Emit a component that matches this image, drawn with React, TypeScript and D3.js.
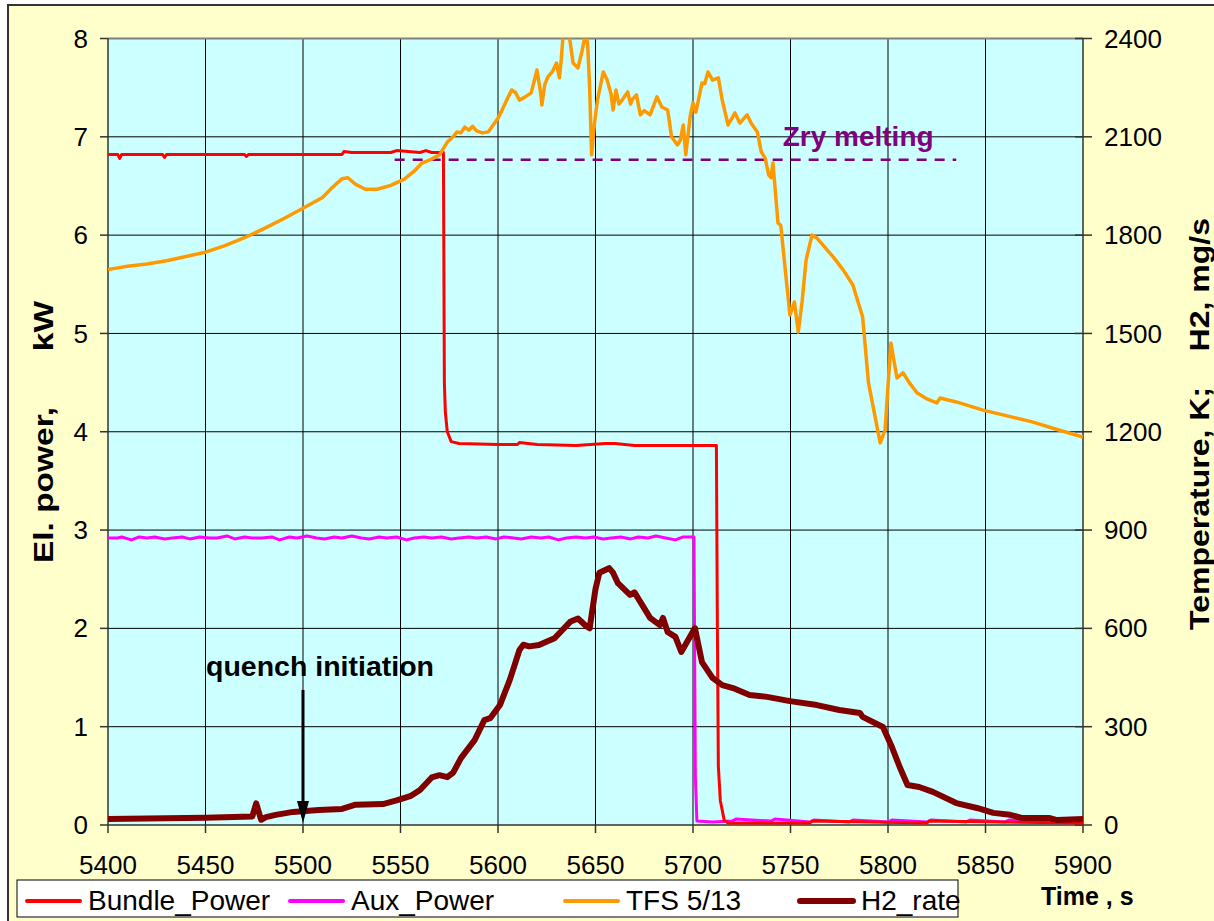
import * as d3 from 'd3';

// ── Data ────────────────────────────────────────────────
const BUNDLE_T = [5400, 5405, 5406, 5407, 5428, 5429, 5430, 5470, 5471, 5472, 5520, 5521, 5525, 5545, 5548, 5560, 5563, 5566, 5572, 5572.5, 5573, 5574, 5576, 5580, 5600, 5610, 5611, 5620, 5640, 5655, 5660, 5670, 5712, 5712.5, 5713, 5714, 5716, 5718, 5760, 5761, 5820, 5821, 5900];
const BUNDLE_P = [6.82, 6.82, 6.78, 6.82, 6.82, 6.79, 6.82, 6.82, 6.8, 6.82, 6.82, 6.85, 6.84, 6.84, 6.86, 6.84, 6.86, 6.84, 6.84, 4.5, 4.2, 4.0, 3.9, 3.88, 3.87, 3.87, 3.89, 3.87, 3.86, 3.88, 3.88, 3.86, 3.86, 2.0, 0.6, 0.25, 0.05, 0.02, 0.02, 0.04, 0.02, 0.04, 0.02];

const AUX_T = [5400, 5405, 5407, 5412, 5416, 5420, 5424, 5429, 5433, 5438, 5442, 5447, 5452, 5456, 5461, 5465, 5470, 5474, 5479, 5484, 5488, 5493, 5497, 5502, 5507, 5511, 5516, 5520, 5525, 5530, 5534, 5539, 5543, 5548, 5553, 5557, 5562, 5566, 5571, 5576, 5580, 5585, 5589, 5594, 5599, 5603, 5608, 5612, 5617, 5622, 5626, 5631, 5635, 5640, 5645, 5649, 5654, 5658, 5663, 5668, 5672, 5677, 5681, 5686, 5691, 5695, 5700.5, 5701.2, 5702, 5710, 5720, 5722, 5740, 5742, 5760, 5762, 5780, 5782, 5800, 5802, 5820, 5822, 5840, 5842, 5860, 5862, 5880, 5882, 5900];
const AUX_P = [2.92, 2.92, 2.93, 2.9, 2.93, 2.92, 2.93, 2.91, 2.92, 2.93, 2.91, 2.93, 2.92, 2.92, 2.94, 2.91, 2.93, 2.92, 2.92, 2.93, 2.9, 2.93, 2.92, 2.94, 2.92, 2.91, 2.93, 2.92, 2.94, 2.92, 2.91, 2.93, 2.92, 2.93, 2.9, 2.92, 2.93, 2.92, 2.93, 2.91, 2.92, 2.93, 2.92, 2.93, 2.91, 2.93, 2.92, 2.91, 2.93, 2.92, 2.93, 2.9, 2.92, 2.93, 2.92, 2.93, 2.91, 2.92, 2.93, 2.91, 2.93, 2.92, 2.94, 2.92, 2.9, 2.93, 2.93, 0.5, 0.04, 0.03, 0.04, 0.06, 0.04, 0.06, 0.03, 0.05, 0.03, 0.05, 0.03, 0.05, 0.03, 0.05, 0.03, 0.05, 0.03, 0.05, 0.03, 0.05, 0.04];

const TFS_T = [5400, 5405, 5410, 5420, 5430, 5440, 5450, 5460, 5470, 5480, 5490, 5500, 5510, 5515, 5520, 5523, 5527, 5532, 5538, 5545, 5552, 5557, 5561, 5566, 5570, 5574, 5577, 5579, 5581, 5583, 5585, 5587, 5589, 5592, 5595, 5598, 5600, 5602, 5604, 5607, 5609, 5611, 5614, 5617, 5619, 5620, 5622, 5622.5, 5624, 5625.6, 5628, 5630, 5631.5, 5632.5, 5633.5, 5636, 5637, 5638.5, 5641, 5643, 5645, 5646, 5647, 5648, 5649.5, 5651, 5654, 5656, 5658, 5659, 5660.5, 5662, 5664, 5666.5, 5668, 5669, 5671, 5673, 5675, 5678, 5681.5, 5684, 5687, 5689, 5692, 5693.5, 5695, 5696.3, 5698.5, 5700, 5701.5, 5704.6, 5706, 5707.7, 5710, 5713, 5715, 5718, 5721.5, 5724, 5727.7, 5730, 5733, 5735, 5737, 5738.8, 5740, 5741, 5743.6, 5745, 5749.7, 5752, 5754, 5756, 5758, 5761, 5763.6, 5768, 5772, 5777, 5782, 5787, 5790, 5796, 5798.5, 5801.5, 5804.6, 5807.7, 5811, 5815, 5820, 5825, 5826.7, 5835, 5848.7, 5860, 5874, 5885, 5900];
const TFS_K = [1695, 1700, 1705, 1712, 1722, 1735, 1748, 1768, 1792, 1820, 1850, 1882, 1915, 1945, 1972, 1975, 1955, 1940, 1940, 1952, 1971, 1995, 2020, 2032, 2045, 2084, 2100, 2115, 2112, 2130, 2120, 2132, 2118, 2112, 2115, 2140, 2157, 2180, 2206, 2243, 2235, 2212, 2222, 2234, 2280, 2304, 2230, 2197, 2260, 2283, 2300, 2325, 2280, 2340, 2420, 2420, 2390, 2325, 2310, 2359, 2420, 2380, 2250, 2045, 2142, 2212, 2298, 2273, 2230, 2182, 2243, 2200, 2215, 2237, 2200, 2215, 2228, 2167, 2180, 2167, 2222, 2191, 2182, 2100, 2075, 2090, 2136, 2045, 2160, 2203, 2175, 2264, 2262, 2298, 2273, 2280, 2212, 2136, 2173, 2142, 2167, 2140, 2115, 2054, 2035, 1984, 1975, 2020, 1837, 1830, 1556, 1596, 1504, 1600, 1724, 1800, 1791, 1760, 1733, 1694, 1648, 1550, 1349, 1166, 1205, 1471, 1364, 1380, 1349, 1318, 1300, 1288, 1303, 1291, 1266, 1250, 1230, 1210, 1184];

const H2_T = [5400, 5450, 5474, 5476, 5478.5, 5481, 5486, 5495, 5508, 5520, 5527, 5541, 5548, 5555, 5560, 5566, 5570, 5574, 5577, 5581, 5588, 5593, 5596, 5601, 5606, 5611, 5613, 5616, 5621, 5629, 5637, 5641, 5645, 5647, 5650, 5652, 5655, 5657, 5659, 5661.5, 5667.7, 5670, 5678, 5683, 5684.6, 5687, 5691, 5694, 5701, 5704.6, 5710, 5715, 5720.5, 5729, 5738, 5749.7, 5763.6, 5775, 5785.6, 5787, 5797.4, 5802, 5806, 5810, 5816, 5823, 5835, 5845.6, 5854, 5862.6, 5869, 5883, 5886.7, 5900];
const H2_R = [18, 22, 26, 66, 16, 24, 31, 40, 46, 49, 62, 64, 75, 88, 107, 145, 152, 146, 160, 204, 259, 320, 326, 366, 442, 534, 550, 545, 549, 570, 620, 630, 608, 600, 720, 770, 778, 784, 770, 738, 702, 710, 632, 610, 632, 589, 574, 528, 601, 497, 449, 427, 418, 397, 391, 378, 366, 351, 342, 330, 299, 238, 177, 122, 116, 101, 67, 52, 37, 31, 21, 21, 15, 18];

const X_TICKS = [5400, 5450, 5500, 5550, 5600, 5650, 5700, 5750, 5800, 5850, 5900];
const YL_TICKS = [0, 1, 2, 3, 4, 5, 6, 7, 8];
const YR_TICKS = [0, 300, 600, 900, 1200, 1500, 1800, 2100, 2400];

const ZRY_MELT = 2030;     // K
const ZRY_FROM = 5547;
const ZRY_TO = 5835;
const ZRY_LABEL_T = 5746;
const QUENCH_T = 5500;

const LEGEND = [
  { name: 'Bundle_Power', color: '#ff0000', w: 4, x: 27 },
  { name: 'Aux_Power', color: '#ff00ff', w: 4, x: 290 },
  { name: 'TFS 5/13', color: '#ff9900', w: 4, x: 565 },
  { name: 'H2_rate', color: '#800000', w: 6, x: 800 },
];

const W = 1214, H = 921;
const PL = 108, PR = 1083, PT = 38.5, PB = 825;
const FONT = '"Liberation Sans", Arial, sans-serif';

export default function App() {
  const x = d3.scaleLinear().domain([5400, 5900]).range([PL, PR]);
  const yL = d3.scaleLinear().domain([0, 8]).range([PB, PT]);
  const yR = d3.scaleLinear().domain([0, 2400]).range([PB, PT]);

  const lineL = (ts: number[], vs: number[]) =>
    d3.line<number>().x((_, i) => x(ts[i])).y(v => yL(v))(vs) ?? '';
  const lineR = (ts: number[], vs: number[]) =>
    d3.line<number>().x((_, i) => x(ts[i])).y(v => yR(v))(vs) ?? '';

  const qx = x(QUENCH_T);
  const zy = yR(ZRY_MELT);

  return (
    <div style={{ position: 'absolute', left: 0, top: 0, width: W, height: H, overflow: 'hidden' }}>
      <svg width={W} height={H} style={{ display: 'block', fontFamily: FONT }}>
        <defs>
          <clipPath id="plot">
            <rect x={PL} y={PT} width={PR - PL} height={PB - PT} />
          </clipPath>
        </defs>

        {/* Fond + cadre */}
        <rect x={0} y={0} width={W} height={H} fill="#ffffff" />
        <rect x={8} y={5} width={W + 20} height={H + 20} fill="#ffffcc" stroke="#333" strokeWidth={2} />
        <rect x={PL} y={PT} width={PR - PL} height={PB - PT} fill="#ccffff" />

        {/* Grille */}
        {X_TICKS.slice(1, -1).map(t => (
          <line key={'gx' + t} x1={x(t)} x2={x(t)} y1={PT} y2={PB} stroke="#000" strokeWidth={1} />
        ))}
        {YL_TICKS.slice(1, -1).map(v => (
          <line key={'gy' + v} x1={PL} x2={PR} y1={yL(v)} y2={yL(v)} stroke="#000" strokeWidth={1} />
        ))}
        <line x1={PL} x2={PR} y1={PT} y2={PT} stroke="#808080" strokeWidth={2} />

        {/* Axes */}
        <line x1={PL} x2={PL} y1={PT} y2={PB} stroke="#333" strokeWidth={1.5} />
        <line x1={PR} x2={PR} y1={PT} y2={PB} stroke="#333" strokeWidth={1.5} />
        <line x1={PL} x2={PR} y1={PB} y2={PB} stroke="#333" strokeWidth={1.5} />

        {YL_TICKS.map(v => (
          <g key={'yl' + v}>
            <line x1={PL - 8} x2={PL} y1={yL(v)} y2={yL(v)} stroke="#333" strokeWidth={1.5} />
            <text x={88} y={yL(v)} dy="0.35em" textAnchor="end" fontSize={26}>{v}</text>
          </g>
        ))}
        {YR_TICKS.map(v => (
          <g key={'yr' + v}>
            <line x1={PR - 8} x2={PR + 9} y1={yR(v)} y2={yR(v)} stroke="#333" strokeWidth={1.5} />
            <text x={1104} y={yR(v)} dy="0.35em" textAnchor="start" fontSize={26}>{v}</text>
          </g>
        ))}
        {X_TICKS.map(t => (
          <g key={'xt' + t}>
            <line x1={x(t)} x2={x(t)} y1={PB} y2={PB + 8} stroke="#333" strokeWidth={1.5} />
            <text x={x(t)} y={874} textAnchor="middle" fontSize={26}>{t}</text>
          </g>
        ))}

        {/* Titres d'axes */}
        <text transform="translate(53,432) rotate(-90)" textAnchor="middle" fontSize={27} fontWeight="bold"
          textLength={262} lengthAdjust="spacingAndGlyphs" style={{ whiteSpace: 'pre' }}>
          {'El. power,      kW'}
        </text>
        <text transform="translate(1209,424) rotate(-90)" textAnchor="middle" fontSize={27} fontWeight="bold"
          textLength={412} lengthAdjust="spacingAndGlyphs" style={{ whiteSpace: 'pre' }}>
          {'Temperature, K;    H2, mg/s'}
        </text>
        <text x={1041} y={905} fontSize={25} fontWeight="bold" style={{ whiteSpace: 'pre' }}>{'Time , s'}</text>

        {/* Séries */}
        <g clipPath="url(#plot)" fill="none" strokeLinejoin="round">
          <line x1={x(ZRY_FROM)} x2={x(ZRY_TO)} y1={zy} y2={zy} stroke="#800080" strokeWidth={2.5} strokeDasharray="10,8" />
          <path d={lineL(AUX_T, AUX_P)} stroke="#ff00ff" strokeWidth={3} />
          <path d={lineL(BUNDLE_T, BUNDLE_P)} stroke="#ff0000" strokeWidth={3} />
          <path d={lineR(TFS_T, TFS_K)} stroke="#ff9900" strokeWidth={3.5} />
          <path d={lineR(H2_T, H2_R)} stroke="#800000" strokeWidth={6} />
        </g>

        {/* Annotations */}
        <text x={x(ZRY_LABEL_T)} y={zy - 14} fontSize={28} fontWeight="bold" fill="#800080">Zry melting</text>
        <text x={206} y={676} fontSize={28.5} fontWeight="bold" fill="#000">quench initiation</text>
        <line x1={qx} x2={qx} y1={690} y2={805} stroke="#000" strokeWidth={3} />
        <path d={`M${qx - 6},${801} L${qx + 6},${801} L${qx},${PB - 2} Z`} fill="#000" />

        {/* Légende */}
        <rect x={17} y={880} width={941} height={37} fill="#ffffff" stroke="#000" strokeWidth={1} />
        {LEGEND.map(l => (
          <g key={l.name}>
            <line x1={l.x} x2={l.x + 53} y1={901} y2={901} stroke={l.color} strokeWidth={l.w} strokeLinecap="round" />
            <text x={l.x + 61} y={910} fontSize={28} fill="#000">{l.name}</text>
          </g>
        ))}
      </svg>
    </div>
  );
}
